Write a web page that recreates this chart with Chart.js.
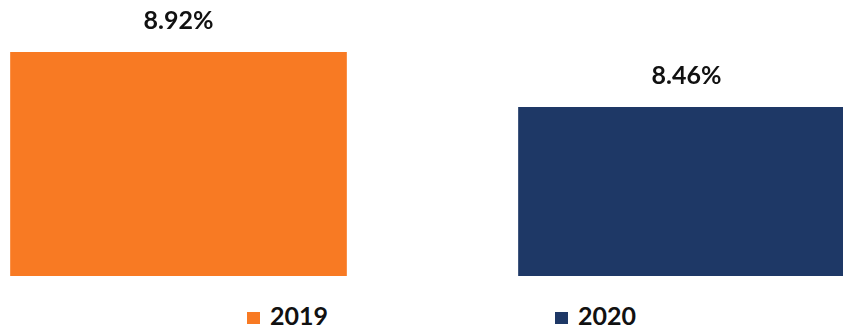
<!DOCTYPE html>
<html>
<head>
<meta charset="utf-8">
<script src="https://cdn.jsdelivr.net/npm/chart.js@4/dist/chart.umd.min.js"></script>
<style>
  html, body { margin: 0; padding: 0; background: #ffffff; overflow: hidden; }
  #wrap { position: relative; width: 843px; height: 332px; }
  #chartBox { position: absolute; left: 0; top: 0; width: 843px; height: 276px; }
  #legend { position: absolute; left: 0; top: 300px; width: 843px; height: 32px;
            font-family: Lato, "Liberation Sans", sans-serif; font-weight: 700; font-size: 25px; color: #111; }
  .lg-item { position: absolute; top: 0; display: flex; align-items: center; white-space: nowrap; }
  .lg-item:nth-child(1) { left: 247px; }
  .lg-item:nth-child(2) { left: 555px; }
  .lg-box { width: 13px; height: 12px; margin-right: 10px; margin-top: 6px; }
</style>
</head>
<body>
<div id="wrap">
  <div id="chartBox"><canvas id="c"></canvas></div>
  <div id="legend"></div>
</div>
<script>
// ---- data ----
const categories = ['2019', '2020'];
const values = [8.92, 8.46];
const colors = ['#F87A23', '#1E3866'];

// value labels above bars
const valueLabels = {
  id: 'valueLabels',
  afterDatasetsDraw(chart) {
    const ctx = chart.ctx;
    ctx.save();
    ctx.font = '700 25px Lato, "Liberation Sans", sans-serif';
    ctx.fillStyle = '#111111';
    ctx.textAlign = 'center';
    ctx.textBaseline = 'alphabetic';
    chart.data.datasets.forEach((ds, di) => {
      const meta = chart.getDatasetMeta(di);
      meta.data.forEach((bar, i) => {
        const v = ds.data[i].y;
        ctx.fillText(v.toFixed(2) + '%', bar.x, bar.y - 23);
      });
    });
    ctx.restore();
  }
};

// HTML legend built from the chart's datasets
const htmlLegend = {
  id: 'htmlLegend',
  afterUpdate(chart) {
    const el = document.getElementById('legend');
    el.innerHTML = '';
    chart.data.datasets.forEach(ds => {
      const item = document.createElement('div');
      item.className = 'lg-item';
      const box = document.createElement('span');
      box.className = 'lg-box';
      box.style.background = ds.backgroundColor;
      const txt = document.createElement('span');
      txt.textContent = ds.label;
      item.appendChild(box);
      item.appendChild(txt);
      el.appendChild(item);
    });
  }
};

const datasets = categories.map((cat, i) => ({
  label: cat,
  data: [{ x: i, y: values[i] }],
  backgroundColor: colors[i],
  borderWidth: 0,
  barThickness: 336,
  grouped: false
}));

new Chart(document.getElementById('c'), {
  type: 'bar',
  data: { datasets },
  options: {
    responsive: true,
    maintainAspectRatio: false,
    animation: false,
    layout: { padding: 0 },
    scales: {
      x: { type: 'linear', display: false, offset: false, min: -0.3514, max: 1.3081, grid: { display: false } },
      y: { display: false, min: 7.049, max: 9.357, grid: { display: false } }
    },
    plugins: {
      legend: { display: false },
      tooltip: { enabled: false }
    }
  },
  plugins: [valueLabels, htmlLegend]
});
</script>
</body>
</html>
